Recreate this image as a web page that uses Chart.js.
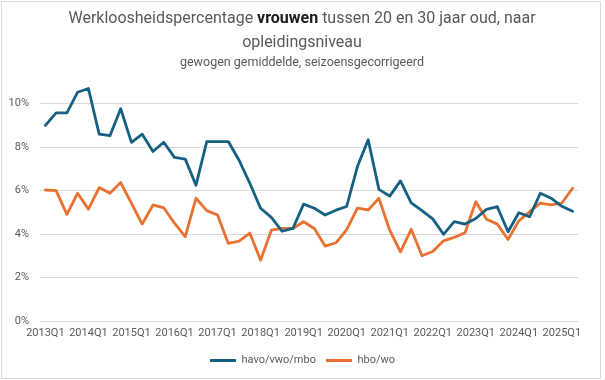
<!DOCTYPE html>
<html>
<head>
<meta charset="utf-8">
<script src="https://cdn.jsdelivr.net/npm/chart.js@4.4.1/dist/chart.umd.min.js"></script>
<style>
  html, body { margin: 0; padding: 0; background: #ffffff; }
  #wrap { width: 605px; height: 380px; }
</style>
</head>
<body>
<div id="wrap"><canvas id="c" width="605" height="380"></canvas></div>
<script>
const categories = [
  '2013Q1','2013Q2','2013Q3','2013Q4',
  '2014Q1','2014Q2','2014Q3','2014Q4',
  '2015Q1','2015Q2','2015Q3','2015Q4',
  '2016Q1','2016Q2','2016Q3','2016Q4',
  '2017Q1','2017Q2','2017Q3','2017Q4',
  '2018Q1','2018Q2','2018Q3','2018Q4',
  '2019Q1','2019Q2','2019Q3','2019Q4',
  '2020Q1','2020Q2','2020Q3','2020Q4',
  '2021Q1','2021Q2','2021Q3','2021Q4',
  '2022Q1','2022Q2','2022Q3','2022Q4',
  '2023Q1','2023Q2','2023Q3','2023Q4',
  '2024Q1','2024Q2','2024Q3','2024Q4',
  '2025Q1','2025Q2'
];

const havoVwoMbo = [
  9.00, 9.58, 9.58, 10.53,
  10.70, 8.60, 8.53, 9.77,
  8.22, 8.60, 7.80, 8.23,
  7.53, 7.45, 6.25, 8.26,
  8.26, 8.26, 7.40, 6.34,
  5.19, 4.77, 4.13, 4.26,
  5.38, 5.19, 4.88, 5.10,
  5.27, 7.11, 8.34, 6.06,
  5.75, 6.45, 5.44, 5.08,
  4.70, 3.99, 4.57, 4.46,
  4.72, 5.14, 5.26, 4.11,
  4.98, 4.80, 5.88, 5.65,
  5.28, 5.05
];

const hboWo = [
  6.03, 6.00, 4.91, 5.88,
  5.15, 6.14, 5.88, 6.37,
  5.42, 4.46, 5.34, 5.21,
  4.50, 3.88, 5.65, 5.08,
  4.88, 3.57, 3.68, 4.05,
  2.80, 4.18, 4.26, 4.26,
  4.57, 4.26, 3.45, 3.60,
  4.20, 5.19, 5.11, 5.65,
  4.18, 3.18, 4.22, 3.00,
  3.20, 3.69, 3.85, 4.06,
  5.49, 4.68, 4.46, 3.75,
  4.61, 5.03, 5.43, 5.34,
  5.43, 6.11
];

const seriesNames = ['havo/vwo/mbo', 'hbo/wo'];
const seriesColors = ['#156082', '#E97132'];
const yTickValues = [0, 2, 4, 6, 8, 10];

const titleParts = [
  ['Werkloosheidspercentage ', false],
  ['vrouwen', true],
  [' tussen 20 en 30 jaar oud, naar', false]
];
const titleLine2 = 'opleidingsniveau';
const subtitleText = 'gewogen gemiddelde, seizoensgecorrigeerd';

const FONT = 'Roboto, "Liberation Sans", sans-serif';

const frameAndTitle = {
  id: 'frameAndTitle',
  beforeDraw(chart) {
    const ctx = chart.ctx;
    ctx.save();
    ctx.fillStyle = '#ffffff';
    ctx.fillRect(0, 0, chart.width, chart.height);
    ctx.strokeStyle = '#d9d9d9';
    ctx.lineWidth = 1;
    ctx.strokeRect(1.5, 1.5, 599, 377);
    ctx.restore();
  },
  afterDraw(chart) {
    const ctx = chart.ctx;
    const cx = 302;
    ctx.save();
    ctx.textBaseline = 'middle';
    const normal = '400 16px ' + FONT;
    const bold = '700 16px ' + FONT;
    let total = 0;
    titleParts.forEach(([t, b]) => { ctx.font = b ? bold : normal; total += ctx.measureText(t).width; });
    let x = cx - total / 2;
    ctx.textAlign = 'left';
    titleParts.forEach(([t, b]) => {
      ctx.font = b ? bold : normal;
      ctx.fillStyle = b ? '#1a1a1a' : '#595959';
      ctx.fillText(t, x, 19);
      x += ctx.measureText(t).width;
    });
    ctx.textAlign = 'center';
    ctx.font = normal;
    ctx.fillStyle = '#595959';
    ctx.fillText(titleLine2, cx, 43);
    ctx.font = '400 12.5px ' + FONT;
    ctx.fillText(subtitleText, cx, 63);
    ctx.restore();
  }
};

new Chart(document.getElementById('c'), {
  type: 'line',
  data: {
    labels: categories,
    datasets: [
      { label: seriesNames[0], data: havoVwoMbo, borderColor: seriesColors[0], backgroundColor: seriesColors[0] },
      { label: seriesNames[1], data: hboWo, borderColor: seriesColors[1], backgroundColor: seriesColors[1] }
    ]
  },
  options: {
    responsive: false,
    animation: false,
    devicePixelRatio: 1,
    layout: { padding: { top: 82, left: 0, right: 0, bottom: 4 } },
    elements: {
      line: { borderWidth: 2.8, tension: 0, borderJoinStyle: 'round', borderCapStyle: 'round' },
      point: { radius: 0, hoverRadius: 0 }
    },
    plugins: {
      title: { display: false },
      tooltip: { enabled: false },
      legend: {
        display: true,
        position: 'bottom',
        labels: {
          usePointStyle: true,
          pointStyle: 'line',
          pointStyleWidth: 26,
          boxHeight: 11,
          padding: 10,
          color: '#595959',
          font: { family: FONT, size: 11 },
          generateLabels(chart) {
            return chart.data.datasets.map((ds, i) => ({
              text: ds.label,
              fillStyle: ds.borderColor,
              strokeStyle: ds.borderColor,
              lineWidth: 3,
              pointStyle: 'line',
              hidden: false,
              datasetIndex: i,
              fontColor: '#595959'
            }));
          }
        }
      }
    },
    scales: {
      x: {
        offset: true,
        grid: { display: false, drawTicks: false },
        border: { display: false },
        ticks: {
          autoSkip: false,
          maxRotation: 0,
          minRotation: 0,
          padding: 6,
          color: '#595959',
          font: { family: FONT, size: 11 },
          callback(v, i) { const l = categories[i]; return l.endsWith('Q1') ? l : ''; }
        },
        afterFit(s) { s.height = 24; }
      },
      y: {
        min: 0,
        max: 11,
        grid: { color: '#d9d9d9', lineWidth: 1, drawTicks: false },
        border: { display: false },
        afterBuildTicks(s) { s.ticks = yTickValues.map(v => ({ value: v })); },
        ticks: {
          padding: 11,
          color: '#595959',
          font: { family: FONT, size: 11 },
          callback(v) { return v + '%'; }
        },
        afterFit(s) { s.width = 40; }
      },
      yRight: {
        position: 'right',
        display: true,
        grid: { display: false, drawTicks: false },
        border: { display: false },
        ticks: { display: false },
        afterFit(s) { s.width = 27; }
      }
    }
  },
  plugins: [frameAndTitle]
});
</script>
</body>
</html>
